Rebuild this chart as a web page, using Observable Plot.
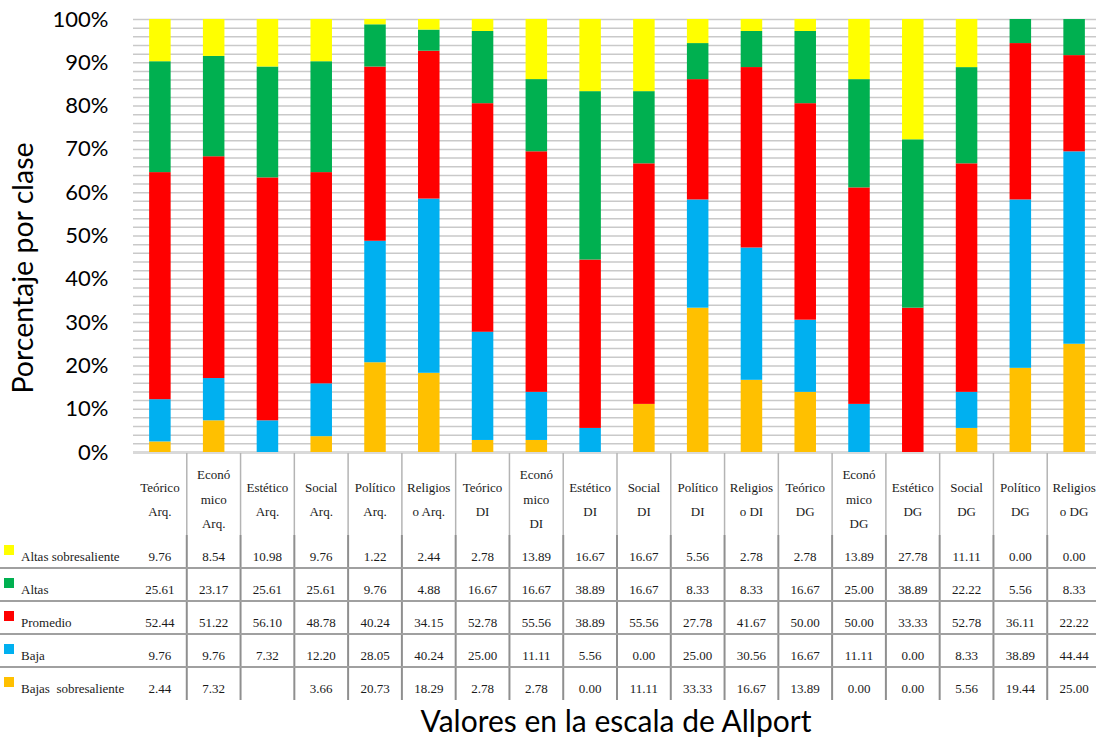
<!DOCTYPE html>
<html>
<head>
<meta charset="utf-8">
<script src="https://cdn.jsdelivr.net/npm/d3@7"></script>
<script src="https://cdn.jsdelivr.net/npm/@observablehq/plot@0.6"></script>
<style>
  html, body { margin: 0; padding: 0; background: #fff; overflow: hidden; }
  #wrap { position: relative; width: 1096px; height: 740px; overflow: hidden; }
  #wrap > * { position: absolute; left: 0; max-width: none !important; }
</style>
</head>
<body>
<div id="wrap"></div>
<script>
// ---------- data ----------
const categories = ["Teórico Arq.", "Económico Arq.", "Estético Arq.", "Social Arq.", "Político Arq.", "Religioso Arq.",
  "Teórico DI", "Económico DI", "Estético DI", "Social DI", "Político DI", "Religioso DI",
  "Teórico DG", "Económico DG", "Estético DG", "Social DG", "Político DG", "Religioso DG"];
const headerLabels = [
  ["Teórico", "Arq."], ["Econó", "mico", "Arq."], ["Estético", "Arq."], ["Social", "Arq."], ["Político", "Arq."], ["Religios", "o Arq."],
  ["Teórico", "DI"], ["Econó", "mico", "DI"], ["Estético", "DI"], ["Social", "DI"], ["Político", "DI"], ["Religios", "o DI"],
  ["Teórico", "DG"], ["Econó", "mico", "DG"], ["Estético", "DG"], ["Social", "DG"], ["Político", "DG"], ["Religios", "o DG"]];
// stacking order: bottom to top
const levels = ["Bajas  sobresaliente", "Baja", "Promedio", "Altas", "Altas sobresaliente"];
const levelColors = ["#FFC000", "#00B0F0", "#FF0000", "#00B050", "#FFFF00"];

const altasSobresaliente = [9.76, 8.54, 10.98, 9.76, 1.22, 2.44, 2.78, 13.89, 16.67, 16.67, 5.56, 2.78, 2.78, 13.89, 27.78, 11.11, 0.00, 0.00];
const altas = [25.61, 23.17, 25.61, 25.61, 9.76, 4.88, 16.67, 16.67, 38.89, 16.67, 8.33, 8.33, 16.67, 25.00, 38.89, 22.22, 5.56, 8.33];
const promedio = [52.44, 51.22, 56.10, 48.78, 40.24, 34.15, 52.78, 55.56, 38.89, 55.56, 27.78, 41.67, 50.00, 50.00, 33.33, 52.78, 36.11, 22.22];
const baja = [9.76, 9.76, 7.32, 12.20, 28.05, 40.24, 25.00, 11.11, 5.56, 0.00, 25.00, 30.56, 16.67, 11.11, 0.00, 8.33, 38.89, 44.44];
const bajasSobresaliente = [2.44, 7.32, null, 3.66, 20.73, 18.29, 2.78, 2.78, 0.00, 11.11, 33.33, 16.67, 13.89, 0.00, 0.00, 5.56, 19.44, 25.00];

const yTicks = [0, 10, 20, 30, 40, 50, 60, 70, 80, 90, 100];
const yGrid = [2, 4, 6, 8, 10, 12, 14, 16, 18, 20, 22, 24, 26, 28, 30, 32, 34, 36, 38, 40, 42, 44, 46, 48, 50,
  52, 54, 56, 58, 60, 62, 64, 66, 68, 70, 72, 74, 76, 78, 80, 82, 84, 86, 88, 90, 92, 94, 96, 98, 100];

const yTitle = "Porcentaje por clase";
const xTitle = "Valores en la escala de Allport";

// series arrays by level (same order as levels)
const seriesByLevel = [bajasSobresaliente, baja, promedio, altas, altasSobresaliente];
// table row order (top to bottom)
const tableRows = [
  {label: "Altas sobresaliente", values: altasSobresaliente, color: levelColors[4]},
  {label: "Altas", values: altas, color: levelColors[3]},
  {label: "Promedio", values: promedio, color: levelColors[2]},
  {label: "Baja", values: baja, color: levelColors[1]},
  {label: "Bajas\u00a0\u00a0sobresaliente", values: bajasSobresaliente, color: levelColors[0]}
];

const rows = [];
levels.forEach((lev, li) => {
  categories.forEach((c, ci) => {
    rows.push({cat: c, level: lev, value: seriesByLevel[li][ci] ?? 0});
  });
});

// ---------- chart ----------
const plot = Plot.plot({
  width: 1101,
  height: 455,
  marginLeft: 133,
  marginRight: 0,
  marginTop: 19,
  marginBottom: 3,
  style: {fontFamily: "Lato, 'Open Sans', sans-serif", fontSize: "22px", color: "#000", background: "transparent", overflow: "visible", maxWidth: "none"},
  x: {domain: categories, paddingInner: 0.6, paddingOuter: 0.3, round: false, axis: null},
  y: {domain: [0, 100], axis: null},
  color: {domain: levels, range: levelColors},
  marks: [
    Plot.ruleY(yGrid, {stroke: "#c9c9c9", strokeWidth: 1.5}),
    Plot.ruleY([0], {stroke: "#d9d9d9", strokeWidth: 3}),
    Plot.barY(rows, {x: "cat", y: "value", fill: "level", order: levels}),
    Plot.axisY({ticks: yTicks, tickFormat: d => d + "%", tickSize: 0, tickPadding: 25, fontSize: 22, label: null})
  ]
});
plot.style.top = "0px";
plot.style.maxWidth = "none";
const wrap = document.getElementById("wrap");
wrap.appendChild(plot);

// ---------- data table below the chart ----------
const SERIF = "Liberation Serif";
const xs = plot.scale("x");
const step = xs.step, bw = xs.bandwidth;
const center = c => xs.apply(c) + bw / 2;
const tableTop = 453;
const tsvg = d3.create("svg").attr("width", 1101).attr("height", 288)
  .style("top", tableTop + "px").style("max-width", "none");
const addText = (x, y, t, anchor) => tsvg.append("text")
  .attr("x", x).attr("y", y).attr("text-anchor", anchor).attr("dominant-baseline", "middle")
  .attr("font-family", SERIF).attr("font-size", 13).attr("fill", "#1a1a1a")
  .attr("xml:space", "preserve").text(t);

const headerMid = 48, lineGap = 24.5, sepHeader = 82, tableBottom = 247;
const rowCenters = [105, 138, 171, 204, 237];
const hLines = [115, 148, 181, 214];

// vertical separators
categories.forEach((c, i) => {
  if (i === 0) return;
  const xb = center(c) - step / 2;
  tsvg.append("line").attr("x1", xb).attr("x2", xb).attr("y1", 0).attr("y2", sepHeader)
    .attr("stroke", "#b4b4b4").attr("stroke-width", 1.5);
  tsvg.append("line").attr("x1", xb).attr("x2", xb).attr("y1", sepHeader).attr("y2", tableBottom)
    .attr("stroke", "#8f8f8f").attr("stroke-width", 2);
});
{
  const last = categories[categories.length - 1];
  const xb = center(last) + step / 2;
  tsvg.append("line").attr("x1", xb).attr("x2", xb).attr("y1", 0).attr("y2", tableBottom)
    .attr("stroke", "#8f8f8f").attr("stroke-width", 2);
}
// horizontal separators
hLines.forEach(y => {
  tsvg.append("line").attr("x1", 0).attr("x2", 1101).attr("y1", y).attr("y2", y)
    .attr("stroke", "#a0a0a0").attr("stroke-width", 2);
});
// header labels
categories.forEach((c, i) => {
  const lines = headerLabels[i];
  const n = lines.length;
  lines.forEach((t, j) => addText(center(c), headerMid + (j - (n - 1) / 2) * lineGap, t, "middle"));
});
// rows
tableRows.forEach((r, ri) => {
  const cy = rowCenters[ri];
  tsvg.append("rect").attr("x", 4).attr("y", cy - 13).attr("width", 10).attr("height", 10).attr("fill", r.color);
  addText(21, cy, r.label, "start");
  categories.forEach((c, ci) => {
    const v = r.values[ci];
    if (v == null) return;
    addText(center(c), cy, v.toFixed(2), "middle");
  });
});
wrap.appendChild(tsvg.node());

// ---------- axis titles ----------
const osvg = d3.create("svg").attr("width", 1096).attr("height", 740).style("top", "0px")
  .style("pointer-events", "none")
  .style("font-family", "Lato, 'Open Sans', sans-serif").style("fill", "#000");
osvg.append("text").attr("transform", "translate(33,268) rotate(-90)")
  .attr("text-anchor", "middle").style("font-size", "28.5px").text(yTitle);
osvg.append("text").attr("x", 616).attr("y", 732).attr("text-anchor", "middle")
  .style("font-size", "30px").text(xTitle);
wrap.appendChild(osvg.node());
</script>
</body>
</html>
